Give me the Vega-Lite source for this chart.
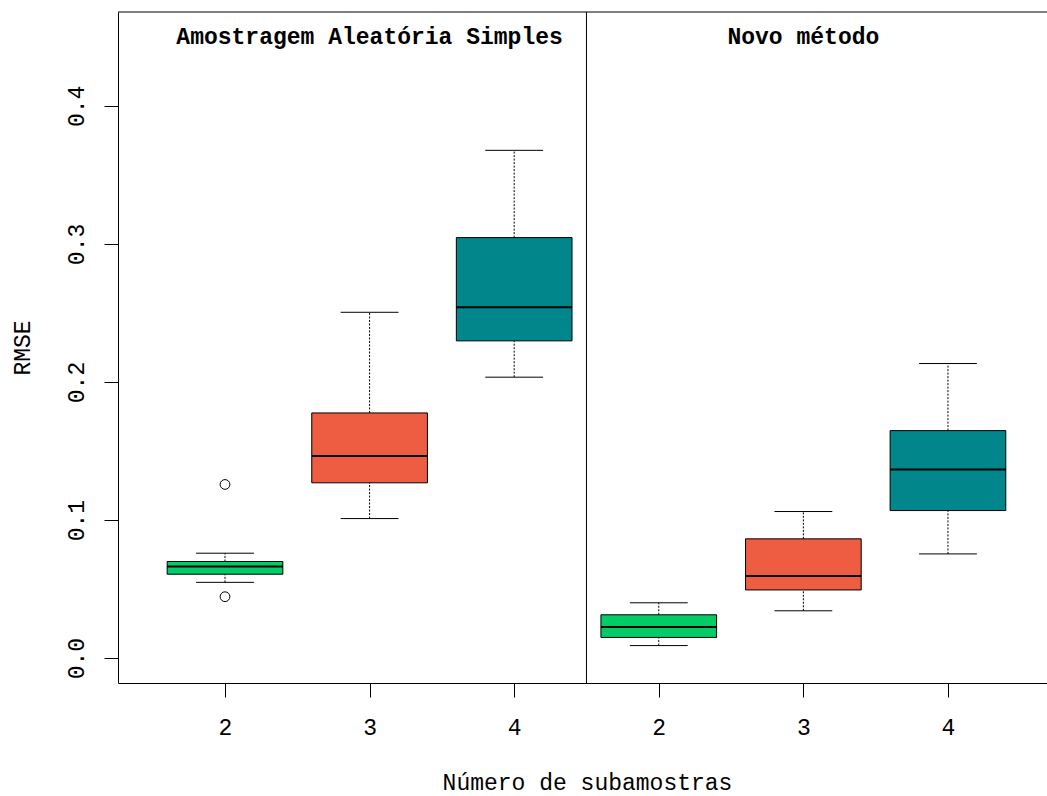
{
  "$schema": "https://vega.github.io/schema/vega-lite/v6.json",
  "autosize": "none",
  "width": 929,
  "height": 671,
  "padding": {"left": 118, "top": 12, "right": 0, "bottom": 113},
  "background": "white",
  "config": {
    "view": {"stroke": null},
    "font": "Liberation Mono",
    "axis": {
      "grid": false,
      "domainColor": "black",
      "domainWidth": 1,
      "tickColor": "black",
      "tickWidth": 1,
      "tickSize": 14,
      "labelFont": "Liberation Mono",
      "labelFontSize": 23,
      "labelColor": "black",
      "titleFont": "Liberation Mono",
      "titleFontSize": 23,
      "titleFontWeight": "normal",
      "titleColor": "black"
    }
  },
  "datasets": {
    "caixas": [
      {"grupo": "Amostragem Aleatória Simples", "n": 2, "minimo": 0.0549, "q1": 0.0608, "mediana": 0.0663, "q3": 0.0700, "maximo": 0.0760},
      {"grupo": "Amostragem Aleatória Simples", "n": 3, "minimo": 0.1011, "q1": 0.1270, "mediana": 0.1464, "q3": 0.1776, "maximo": 0.2505},
      {"grupo": "Amostragem Aleatória Simples", "n": 4, "minimo": 0.2035, "q1": 0.2298, "mediana": 0.2541, "q3": 0.3046, "maximo": 0.3678},
      {"grupo": "Novo método", "n": 2, "minimo": 0.0091, "q1": 0.0150, "mediana": 0.0225, "q3": 0.0314, "maximo": 0.0401},
      {"grupo": "Novo método", "n": 3, "minimo": 0.0343, "q1": 0.0494, "mediana": 0.0595, "q3": 0.0864, "maximo": 0.1062},
      {"grupo": "Novo método", "n": 4, "minimo": 0.0755, "q1": 0.1069, "mediana": 0.1367, "q3": 0.1648, "maximo": 0.2134}
    ],
    "atipicos": [
      {"grupo": "Amostragem Aleatória Simples", "n": 2, "rmse": 0.1258},
      {"grupo": "Amostragem Aleatória Simples", "n": 2, "rmse": 0.0445}
    ],
    "paineis": [
      {"grupo": "Amostragem Aleatória Simples", "n": 3},
      {"grupo": "Novo método", "n": 3}
    ]
  },
  "layer": [
    {
      "data": {"name": "caixas"},
      "transform": [
        {"calculate": "(datum.grupo === 'Novo método' ? 3 : 0) + datum.n - 1", "as": "pos"}
      ],
      "mark": {"type": "rule", "color": "black", "strokeWidth": 1, "strokeDash": [2, 1.5]},
      "encoding": {
        "x": {
          "field": "pos", "type": "quantitative",
          "scale": {"domain": [0.26, 6.685], "nice": false, "zero": false},
          "axis": {
            "values": [1, 2, 3, 4, 5, 6],
            "labelExpr": "datum.value <= 3 ? '' + (datum.value + 1) : '' + (datum.value - 2)",
            "labelBaseline": "middle",
            "labelPadding": 30,
            "title": "Número de subamostras",
            "titleAnchor": "start",
            "titleAlign": "center",
            "titleBaseline": "middle",
            "titleX": 469,
            "titleY": 99
          }
        },
        "y": {
          "field": "minimo", "type": "quantitative",
          "scale": {"domain": [-0.018, 0.468], "nice": false, "zero": false},
          "axis": {
            "values": [0, 0.1, 0.2, 0.3, 0.4],
            "format": ".1f",
            "labelAngle": -90,
            "labelAlign": "center",
            "labelBaseline": "alphabetic",
            "labelPadding": 21,
            "title": "RMSE",
            "titleAngle": -90,
            "titleAlign": "center",
            "titleBaseline": "middle",
            "titleX": -95.5,
            "titleY": 335.5
          }
        },
        "y2": {"field": "q1"}
      }
    },
    {
      "data": {"name": "caixas"},
      "transform": [
        {"calculate": "(datum.grupo === 'Novo método' ? 3 : 0) + datum.n - 1", "as": "pos"}
      ],
      "mark": {"type": "rule", "color": "black", "strokeWidth": 1, "strokeDash": [2, 1.5]},
      "encoding": {
        "x": {"field": "pos", "type": "quantitative", "title": "Número de subamostras"},
        "y": {"field": "q3", "type": "quantitative", "title": "RMSE"},
        "y2": {"field": "maximo"}
      }
    },
    {
      "data": {"name": "caixas"},
      "transform": [
        {"calculate": "(datum.grupo === 'Novo método' ? 3 : 0) + datum.n - 1", "as": "pos"},
        {"calculate": "datum.pos - 0.2", "as": "hasteIni"},
        {"calculate": "datum.pos + 0.2", "as": "hasteFim"},
        {"fold": ["minimo", "maximo"], "as": ["extremo", "valor"]}
      ],
      "mark": {"type": "rule", "color": "black", "strokeWidth": 1},
      "encoding": {
        "x": {"field": "hasteIni", "type": "quantitative", "title": "Número de subamostras"},
        "x2": {"field": "hasteFim"},
        "y": {"field": "valor", "type": "quantitative", "title": "RMSE"}
      }
    },
    {
      "data": {"name": "caixas"},
      "transform": [
        {"calculate": "(datum.grupo === 'Novo método' ? 3 : 0) + datum.n - 1", "as": "pos"},
        {"calculate": "datum.pos - 0.4", "as": "caixaIni"},
        {"calculate": "datum.pos + 0.4", "as": "caixaFim"}
      ],
      "mark": {"type": "rect", "stroke": "black", "strokeWidth": 1},
      "encoding": {
        "x": {"field": "caixaIni", "type": "quantitative", "title": "Número de subamostras"},
        "x2": {"field": "caixaFim"},
        "y": {"field": "q1", "type": "quantitative", "title": "RMSE"},
        "y2": {"field": "q3"},
        "fill": {
          "field": "n", "type": "nominal",
          "scale": {"domain": [2, 3, 4], "range": ["#00CD66", "#EE5C42", "#00868B"]},
          "legend": null
        }
      }
    },
    {
      "data": {"name": "caixas"},
      "transform": [
        {"calculate": "(datum.grupo === 'Novo método' ? 3 : 0) + datum.n - 1", "as": "pos"},
        {"calculate": "datum.pos - 0.4", "as": "caixaIni"},
        {"calculate": "datum.pos + 0.4", "as": "caixaFim"}
      ],
      "mark": {"type": "rule", "color": "black", "strokeWidth": 2},
      "encoding": {
        "x": {"field": "caixaIni", "type": "quantitative", "title": "Número de subamostras"},
        "x2": {"field": "caixaFim"},
        "y": {"field": "mediana", "type": "quantitative", "title": "RMSE"}
      }
    },
    {
      "data": {"name": "atipicos"},
      "transform": [
        {"calculate": "(datum.grupo === 'Novo método' ? 3 : 0) + datum.n - 1", "as": "pos"}
      ],
      "mark": {"type": "point", "shape": "circle", "filled": false, "stroke": "black", "strokeWidth": 1, "size": 95, "opacity": 1},
      "encoding": {
        "x": {"field": "pos", "type": "quantitative", "title": "Número de subamostras"},
        "y": {"field": "rmse", "type": "quantitative", "title": "RMSE"}
      }
    },
    {
      "data": {"values": [{}]},
      "mark": {"type": "rule", "color": "black", "strokeWidth": 1},
      "encoding": {"x": {"datum": 3.5, "type": "quantitative"}}
    },
    {
      "data": {"values": [{}]},
      "mark": {"type": "rule", "color": "black", "strokeWidth": 1},
      "encoding": {"y": {"datum": 0.468, "type": "quantitative"}}
    },
    {
      "data": {"name": "paineis"},
      "transform": [
        {"calculate": "(datum.grupo === 'Novo método' ? 3 : 0) + datum.n - 1", "as": "pos"}
      ],
      "mark": {"type": "text", "font": "Liberation Mono", "fontWeight": "bold", "fontSize": 23, "color": "black", "align": "center", "baseline": "middle"},
      "encoding": {
        "x": {"field": "pos", "type": "quantitative", "title": "Número de subamostras"},
        "y": {"datum": 0.45, "type": "quantitative"},
        "text": {"field": "grupo"}
      }
    }
  ]
}
